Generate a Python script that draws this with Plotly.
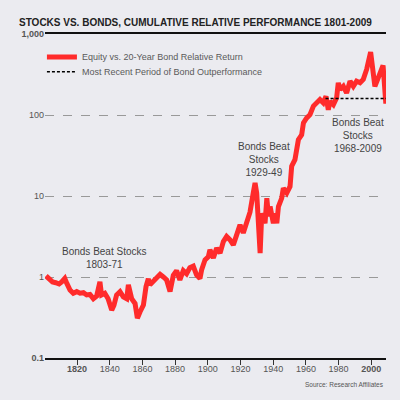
import math
import plotly.graph_objects as go

# equity vs 20-year bond, cumulative relative return
years = [1801, 1803, 1805, 1807, 1809, 1810.6, 1812.5, 1813.7, 1815.7, 1817.7,
         1819.8, 1821.8, 1823.9, 1825.9, 1827.9, 1830, 1832, 1834, 1835, 1837,
         1839, 1841.2, 1842.6, 1844.2, 1846.3, 1848.3, 1850.4, 1851.4, 1853.4, 1855.5,
         1856.9, 1858.5, 1860.6, 1862.2, 1863.6, 1864.6, 1867.7, 1870.8, 1872.8, 1874.8,
         1876.9, 1878.9, 1880.9, 1882.9, 1885, 1887, 1889, 1891.1, 1893.1, 1895.2,
         1896.2, 1898.3, 1900.3, 1901.3, 1903.4, 1905.4, 1907.5, 1909.5, 1911.5, 1913.6,
         1915.6, 1917.7, 1919.7, 1921.7, 1923.8, 1925.8, 1927.8, 1928.9, 1929.9, 1930.9,
         1932, 1933, 1935, 1936.1, 1937.1, 1938.1, 1940.1, 1941.2, 1942.2, 1943.2,
         1945.2, 1946.2, 1948.3, 1950.3, 1951.3, 1953.3, 1955.4, 1957.4, 1958.5, 1960.5,
         1962.5, 1964.6, 1966.6, 1968.6, 1970.6, 1972.3, 1973.7, 1974.7, 1976.8, 1978.8,
         1979.8, 1980.9, 1982.9, 1984.9, 1987, 1989, 1991, 1993.1, 1995.1, 1997.2,
         1999.6, 2000.2, 2002.2, 2004.3, 2006.3, 2007.2, 2008.9]
relative = [1.03, 0.93, 0.87, 0.85, 0.82, 0.87, 0.96, 0.84, 0.69, 0.63,
            0.66, 0.63, 0.64, 0.60, 0.61, 0.54, 0.58, 0.87, 0.60, 0.63,
            0.54, 0.39, 0.45, 0.60, 0.66, 0.57, 0.54, 0.80, 0.54, 0.47,
            0.31, 0.37, 0.45, 0.76, 0.95, 0.80, 0.92, 1.08, 1.0, 0.92,
            0.66, 1.05, 1.2, 0.92, 1.2, 1.1, 1.3, 1.36, 1.06, 0.96,
            1.22, 1.63, 1.78, 2.17, 1.72, 2.27, 1.97, 2.74, 3.16, 2.87,
            2.49, 3.48, 4.4, 3.5, 4.8, 6.3, 10.9, 14.5, 10.9, 5.6,
            1.97, 6.1, 4.6, 9.4, 5.6, 7.4, 4.6, 6.1, 4.6, 7.4,
            9.4, 12.5, 10.9, 13.1, 23.3, 28.1, 49.5, 57, 80, 92,
            101, 129, 141, 155, 141, 170, 116, 148, 134, 163,
            250, 206, 226, 187, 262, 226, 262, 250, 275, 368,
            600, 450, 226, 290, 380, 410, 138]

# most recent period of bond outperformance
recent_years = [1972, 2009]
recent_level = [160, 160]

y_ticks = [0.1, 1, 10, 100, 1000]
y_labels = ["<b>0.1</b>", "1", "10", "100", "<b>1,000</b>"]
x_ticks = [1820, 1840, 1860, 1880, 1900, 1920, 1940, 1960, 1980, 2000]
x_labels = ["<b>1820</b>", "1840", "1860", "1880", "1900", "1920", "1940", "1960", "1980", "<b>2000</b>"]

notes = [
    (1837, 1.71, "Bonds Beat Stocks<br>1803-71"),
    (1934.4, 28.3, "Bonds Beat<br>Stocks<br>1929-49"),
    (1992, 55.6, "Bonds Beat<br>Stocks<br>1968-2009"),
]

bg = "#ebebf0"
red = "#ff2b2b"
legend_font = dict(family="Liberation Sans", size=9, color="#5a5a5a")

fig = go.Figure()
fig.add_trace(go.Scatter(x=years, y=relative, mode="lines",
                         name="Equity vs. 20-Year Bond Relative Return",
                         line=dict(color=red, width=5), legend="legend", showlegend=True))
fig.add_trace(go.Scatter(x=recent_years, y=recent_level, mode="lines",
                         name="Most Recent Period of Bond Outperformance",
                         line=dict(color="black", width=1.5, dash="3px,2px"),
                         legend="legend2", showlegend=True))

# annotations on a log axis take log10 of the value
for nx, ny, txt in notes:
    fig.add_annotation(x=nx, y=math.log10(ny), text=txt, showarrow=False, yanchor="middle",
                       font=dict(family="Liberation Sans", size=10, color="#444"))

# title as a paper annotation so it sits exactly above the top rule
fig.add_annotation(x=-0.082, y=1.037, xref="paper", yref="paper", xanchor="left", yanchor="middle",
                   text="<b>STOCKS VS. BONDS, CUMULATIVE RELATIVE PERFORMANCE 1801-2009</b>",
                   showarrow=False, font=dict(family="Liberation Sans", size=10, color="#222"))

fig.add_annotation(x=1, y=-0.1, xref="paper", yref="paper", xanchor="right",
                   text="Source: Research Affiliates", showarrow=False,
                   font=dict(family="Liberation Sans", size=6.5, color="#555"))

fig.update_layout(
    width=400, height=400,
    margin=dict(l=45, r=14, t=34, b=42),
    paper_bgcolor=bg, plot_bgcolor=bg,
    showlegend=True,
    legend=dict(x=-0.009, y=0.974, xanchor="left", yanchor="top", bgcolor="rgba(0,0,0,0)",
                font=legend_font, itemwidth=30, visible=True),
    legend2=dict(x=-0.009, y=0.928, xanchor="left", yanchor="top", bgcolor="rgba(0,0,0,0)",
                 font=legend_font, itemwidth=30, visible=True),
    font=dict(family="Liberation Sans"),
)
fig.update_xaxes(range=[1800.4, 2009], tickvals=x_ticks, ticktext=x_labels,
                 showgrid=False, zeroline=False, showline=True, mirror=True,
                 linecolor="#111", linewidth=1.5, ticks="outside", ticklen=5,
                 tickcolor="#333", ticklabelstandoff=-4,
                 tickfont=dict(size=9, color="#555"))
fig.update_yaxes(type="log", range=[-1, 3], tickvals=y_ticks, ticktext=y_labels,
                 showgrid=True, gridcolor="#999", griddash="dash", gridwidth=1,
                 zeroline=False, showline=False, ticks="",
                 tickfont=dict(size=9, color="#555"))

# drop the default page margin so the figure sits at the window's corner
fig.write_html("out.html", config={"displayModeBar": False},
               post_script="document.body.style.margin='0';")
